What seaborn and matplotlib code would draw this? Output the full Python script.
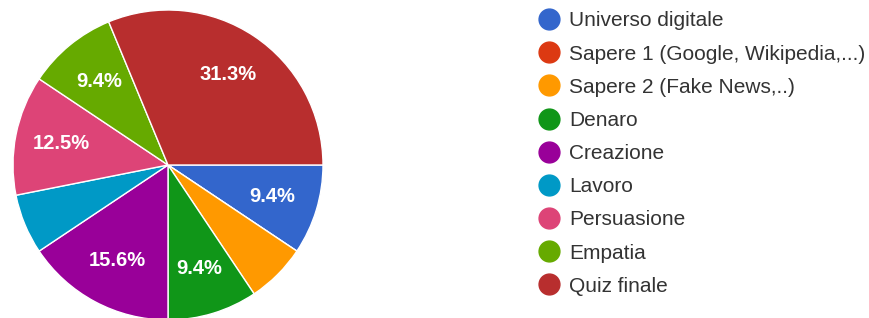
import seaborn as sns
import matplotlib.pyplot as plt
from matplotlib.lines import Line2D

categories = ["Universo digitale", "Sapere 1 (Google, Wikipedia,...)", "Sapere 2 (Fake News,..)",
              "Denaro", "Creazione", "Lavoro", "Persuasione", "Empatia", "Quiz finale"]
responses = [3, 0, 2, 3, 5, 2, 4, 3, 10]
colors = ["#3366cc", "#dc3912", "#ff9900", "#109618", "#990099",
          "#0099c6", "#dd4477", "#66aa00", "#b82e2e"]

sns.set_theme(style="white")
plt.rcParams['font.family'] = ['Liberation Sans', 'DejaVu Sans']
palette = sns.color_palette(colors)

W, H = 870, 318
fig = plt.figure(figsize=(W / 100, H / 100), dpi=100)

# pie centre (168, 165) px, radius 155 px
cx, cy, r = 168, 165, 155
ax = fig.add_axes([(cx - r) / W, (H - cy - r) / H, 2 * r / W, 2 * r / H])


def pct_label(p):
    # round half up like the source (10/32 -> 31.3%)
    v = int(p * 10 + 0.5 + 1e-6) / 10
    return f"{v:.1f}%" if p > 8 else ""


wedges, texts, autotexts = ax.pie(
    responses, colors=palette, startangle=0, counterclock=False,
    autopct=pct_label, pctdistance=0.7, radius=1,
    wedgeprops=dict(edgecolor="white", linewidth=1),
    textprops=dict(color="white", fontsize=14.5, fontweight="bold"))
ax.set_xlim(-1, 1)
ax.set_ylim(-1, 1)
ax.set_aspect("equal")
ax.axis("off")

handles = [Line2D([0], [0], marker="o", linestyle="", markersize=15,
                  markerfacecolor=c, markeredgecolor=c) for c in palette]
fig.legend(handles, categories, loc="upper left", bbox_to_anchor=(532 / W, 1 - 3 / H),
           frameon=False, fontsize=15, labelspacing=0.68, handlelength=0.8,
           handletextpad=0.6, labelcolor="#333333", borderaxespad=0)

fig.savefig("out.png", dpi=100)
